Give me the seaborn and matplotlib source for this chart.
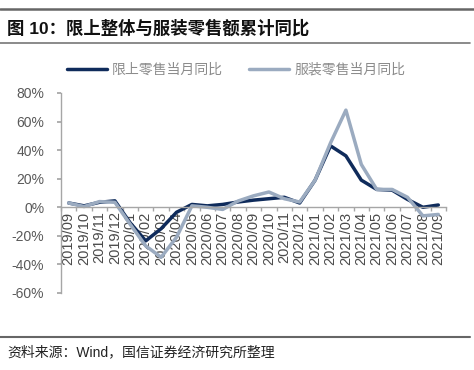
import matplotlib
matplotlib.use('Agg')
import matplotlib.pyplot as plt
import seaborn as sns
import pandas as pd
from matplotlib.lines import Line2D

# ---- data ----
months = ['2019/09', '2019/10', '2019/11', '2019/12', '2020/01', '2020/02', '2020/03',
          '2020/04', '2020/05', '2020/06', '2020/07', '2020/08', '2020/09', '2020/10',
          '2020/11', '2020/12', '2021/01', '2021/02', '2021/03', '2021/04', '2021/05',
          '2021/06', '2021/07', '2021/08', '2021/09']
retail = [3, 1, 3.5, 4.5, -11, -23.5, -15, -3.5, 2, 1, 2, 3.7, 5, 6, 7, 3,
          19, 43, 36, 19, 12.5, 12, 5.5, 0, 1.6]
apparel = [3, 0.5, 4, 3.5, -12, -27, -35, -21, 1, 0, -1.5, 4.4, 8, 10.7, 6, 3.7,
           19, 45, 68, 30, 12.5, 12.5, 7, -6, -5]
series_names = ['限上零售当月同比', '服装零售当月同比']
y_ticks = [-60, -40, -20, 0, 20, 40, 60, 80]
y_tick_labels = ['-60%', '-40%', '-20%', '0%', '20%', '40%', '60%', '80%']
title = '图 10：限上整体与服装零售额累计同比'
source = '资料来源：Wind，国信证券经济研究所整理'

colors = ['#0F2B5B', '#9BABC0']

sns.set_theme(style='white')
plt.rcParams['font.family'] = ['Liberation Sans', 'Noto Sans CJK SC', 'DejaVu Sans']
plt.rcParams['axes.unicode_minus'] = False

df = pd.DataFrame({
    'month': months + months,
    'value': retail + apparel,
    'series': [series_names[0]] * len(months) + [series_names[1]] * len(months),
})

W, H = 474, 370
fig = plt.figure(figsize=(W / 100, H / 100), dpi=100)
fig.patch.set_facecolor('white')
ax = fig.add_axes([61 / W, 1 - 293 / H, (446 - 61) / W, 200 / H])
ax.set_facecolor('white')

sns.lineplot(data=df, x='month', y='value', hue='series', palette=colors,
             linewidth=2.5, sort=False, ax=ax)

ax.set_xlim(-0.5, len(months) - 0.5)
ax.set_ylim(-60, 80)
ax.set_xlabel('')
ax.set_ylabel('')

for s in ['top', 'right']:
    ax.spines[s].set_visible(False)
ax.spines['bottom'].set_position(('data', 0))
ax.spines['bottom'].set_color('#A6A6A6')
ax.spines['left'].set_color('#A6A6A6')
ax.spines['bottom'].set_linewidth(1.0)
ax.spines['left'].set_linewidth(1.0)

ax.set_xticks(range(len(months)))
ax.set_xticklabels(months, rotation=90, fontsize=10.5, color='#4A4A4A')
ax.set_xticks([i - 0.5 for i in range(len(months) + 1)], minor=True)
ax.tick_params(axis='x', which='major', length=0, pad=3)
ax.tick_params(axis='x', which='minor', length=3, direction='out', color='#A6A6A6', bottom=True)

ax.set_yticks(y_ticks)
ax.set_yticklabels(y_tick_labels, fontsize=10, color='#595959')
ax.tick_params(axis='y', length=3, direction='out', color='#A6A6A6', left=True, pad=9)

sns.move_legend(ax, 'center', bbox_to_anchor=(0.4545, 1.115), ncol=2, title=None,
                frameon=False, handlelength=2.9, handletextpad=0.35, columnspacing=1.9,
                fontsize=10)
for t in ax.get_legend().get_texts():
    t.set_color('#8C8C8C')
    t.set_fontweight('light')
for h in ax.get_legend().legend_handles:
    h.set_linewidth(2.5)

# header / footer
fig.text(7 / W, 1 - 28 / H, title, fontsize=12.5, fontweight='bold', va='center', ha='left',
         color='#111111')
fig.text(7 / W, 1 - 352 / H, source, fontsize=10, va='center', ha='left', color='#222222')
fig.add_artist(Line2D([0, 1], [1 - 9 / H, 1 - 9 / H], color='#666666', linewidth=1.8,
                      transform=fig.transFigure))
fig.add_artist(Line2D([0, 470 / W], [1 - 43 / H, 1 - 43 / H], color='#777777', linewidth=1.2,
                      transform=fig.transFigure))
fig.add_artist(Line2D([0, 470 / W], [1 - 337 / H, 1 - 337 / H], color='#666666', linewidth=1.5,
                      transform=fig.transFigure))

fig.savefig('out.png', dpi=100, facecolor='white')
